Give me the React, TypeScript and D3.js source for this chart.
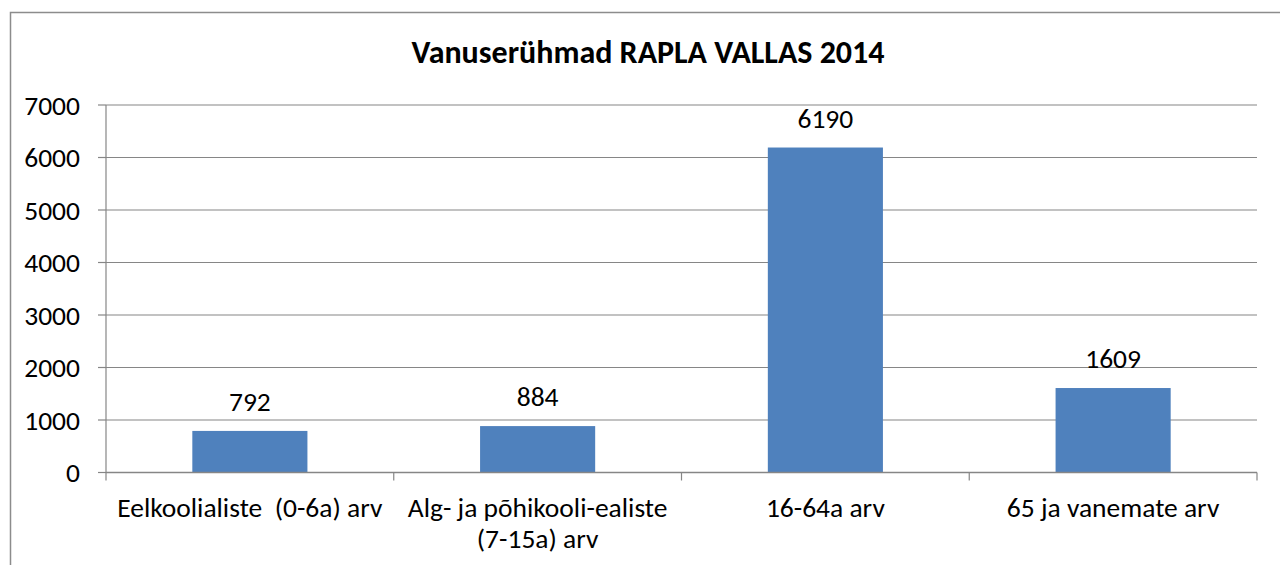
import React from "react";
import * as d3 from "d3";

const categories: string[][] = [
  ["Eelkoolialiste\u00a0\u00a0(0-6a) arv"],
  ["Alg- ja põhikooli-ealiste", "(7-15a) arv"],
  ["16-64a arv"],
  ["65 ja vanemate arv"],
];
const values: number[] = [792, 884, 6190, 1609];
const yTicks: number[] = [0, 1000, 2000, 3000, 4000, 5000, 6000, 7000];
const title = "Vanuserühmad RAPLA VALLAS 2014";

const W = 1280;
const H = 565;
const FONT = "Carlito, Lato, 'Open Sans', sans-serif";

export default function App() {
  const left = 106;
  const right = 1257;
  const top = 105;
  const bottom = 472.5;
  const x = d3
    .scaleBand<number>()
    .domain(values.map((_, i) => i))
    .range([left, right])
    .padding(0);
  const y = d3.scaleLinear().domain([0, 7000]).range([bottom, top]);
  const bw = x.bandwidth() * 0.4;
  const grid = "#868686";
  const fs = 27.5;

  return (
    <svg
      width={W}
      height={H}
      style={{ position: "absolute", left: 0, top: 0, background: "#fff" }}
    >
      <rect x={10.5} y={12.5} width={1300} height={600} fill="#fff" stroke="#8c8c8c" strokeWidth={1.5} />
      <text
        x={648}
        y={63}
        textAnchor="middle"
        fontFamily={FONT}
        fontWeight="bold"
        fontSize={32}
        fill="#000"
      >
        {title}
      </text>
      {yTicks.map((t) => (
        <g key={t}>
          {t > 0 && (
            <line x1={left} x2={right} y1={y(t)} y2={y(t)} stroke={grid} strokeWidth={1.2} />
          )}
          <line x1={left - 8} x2={left} y1={y(t)} y2={y(t)} stroke={grid} strokeWidth={1.2} />
          <text
            x={80}
            y={y(t)}
            dy="0.36em"
            textAnchor="end"
            fontFamily={FONT}
            fontSize={fs}
            fill="#000"
          >
            {t}
          </text>
        </g>
      ))}
      {values.map((v, i) => {
        const cx = (x(i) as number) + x.bandwidth() / 2;
        return (
          <g key={i}>
            <rect x={cx - bw / 2} y={y(v)} width={bw} height={bottom - y(v)} fill="#4F81BD" />
            <text
              x={cx}
              y={y(v) - 20}
              textAnchor="middle"
              fontFamily={FONT}
              fontSize={fs}
              fill="#000"
            >
              {v}
            </text>
            {categories[i].map((line, j) => (
              <text
                key={j}
                x={cx}
                y={517 + j * 31}
                textAnchor="middle"
                fontFamily={FONT}
                fontSize={fs}
                fill="#000"
              >
                {line}
              </text>
            ))}
          </g>
        );
      })}
      <line x1={left} x2={left} y1={top} y2={bottom} stroke={grid} strokeWidth={1.2} />
      <line x1={left} x2={right} y1={bottom} y2={bottom} stroke={grid} strokeWidth={1.5} />
      {d3.range(values.length + 1).map((i) => {
        const xx = i < values.length ? (x(i) as number) : right;
        return <line key={i} x1={xx} x2={xx} y1={bottom} y2={bottom + 8} stroke={grid} strokeWidth={1.2} />;
      })}
    </svg>
  );
}
